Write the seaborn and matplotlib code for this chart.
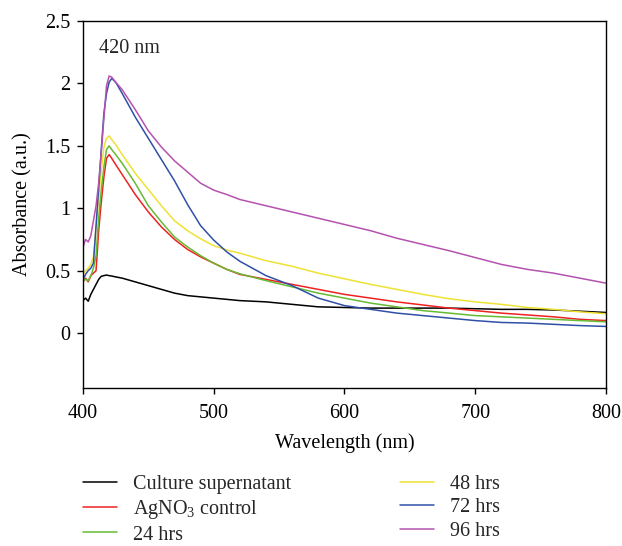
import numpy as np
import pandas as pd
import matplotlib
matplotlib.use("Agg")
import matplotlib.pyplot as plt
from matplotlib.ticker import FuncFormatter
import seaborn as sns

sns.set_style("ticks")
plt.rcParams['font.family'] = ['Liberation Serif', 'DejaVu Serif']
plt.rcParams['mathtext.default'] = 'regular'

# wavelength grid (nm)
wavelength = [400, 402, 404, 406, 408, 410, 412, 414, 416, 418, 420, 422, 425, 430,
              440, 450, 460, 470, 480, 490, 500, 510, 520, 540, 560, 580, 600,
              620, 640, 660, 680, 700, 720, 740, 760, 780, 800]

culture = [0.26, 0.28, 0.255, 0.31, 0.35, 0.39, 0.43, 0.455, 0.46, 0.465, 0.46, 0.457, 0.45, 0.44,
           0.41, 0.38, 0.35, 0.32, 0.30, 0.29, 0.28, 0.27, 0.26, 0.25, 0.23, 0.21, 0.205,
           0.20, 0.20, 0.20, 0.20, 0.195, 0.19, 0.19, 0.185, 0.175, 0.165]
agno3 = [0.41, 0.44, 0.41, 0.46, 0.48, 0.50, 0.82, 1.05, 1.25, 1.40, 1.43, 1.40, 1.35, 1.27,
         1.11, 0.97, 0.85, 0.75, 0.67, 0.61, 0.56, 0.51, 0.47, 0.43, 0.39, 0.35, 0.31,
         0.28, 0.25, 0.225, 0.20, 0.18, 0.16, 0.145, 0.13, 0.11, 0.10]
hrs24 = [0.42, 0.43, 0.42, 0.46, 0.52, 0.62, 0.92, 1.15, 1.33, 1.47, 1.50, 1.47, 1.43, 1.36,
         1.20, 1.02, 0.89, 0.77, 0.69, 0.62, 0.56, 0.51, 0.475, 0.42, 0.37, 0.32, 0.28,
         0.24, 0.21, 0.18, 0.16, 0.14, 0.13, 0.12, 0.11, 0.10, 0.09]
hrs48 = [0.47, 0.50, 0.52, 0.55, 0.61, 0.85, 1.09, 1.30, 1.49, 1.56, 1.58, 1.55, 1.51, 1.43,
         1.28, 1.15, 1.02, 0.90, 0.82, 0.755, 0.70, 0.665, 0.64, 0.58, 0.535, 0.48, 0.435,
         0.39, 0.35, 0.31, 0.275, 0.25, 0.23, 0.205, 0.19, 0.17, 0.155]
hrs72 = [0.43, 0.47, 0.50, 0.52, 0.56, 0.86, 1.16, 1.47, 1.76, 1.92, 2.01, 2.04, 2.01, 1.92,
         1.73, 1.56, 1.39, 1.22, 1.03, 0.86, 0.745, 0.65, 0.575, 0.46, 0.38, 0.28, 0.22,
         0.19, 0.16, 0.14, 0.12, 0.10, 0.085, 0.08, 0.07, 0.06, 0.053]
hrs96 = [0.69, 0.75, 0.73, 0.78, 0.90, 1.02, 1.20, 1.45, 1.72, 1.98, 2.06, 2.05, 2.01, 1.95,
         1.79, 1.62, 1.49, 1.38, 1.29, 1.20, 1.145, 1.11, 1.07, 1.02, 0.97, 0.92, 0.87,
         0.82, 0.76, 0.71, 0.66, 0.605, 0.55, 0.51, 0.48, 0.44, 0.40]

labels = ["Culture supernatant", r"AgNO$_3$ control", "24 hrs", "48 hrs", "72 hrs", "96 hrs"]
colors = ["#000000", "#ee2222", "#66bb33", "#eee233", "#3050a8", "#b452b0"]
series = [culture, agno3, hrs24, hrs48, hrs72, hrs96]

df = pd.concat([pd.DataFrame({"wl": wavelength, "abs": s, "sample": lab})
                for s, lab in zip(series, labels)], ignore_index=True)

fs = 14.5
fig = plt.figure(figsize=(6.22, 5.46), dpi=100)
ax = fig.add_axes([0.1334, 0.2894, 0.8408, 0.6721])

sns.lineplot(data=df, x="wl", y="abs", hue="sample", hue_order=labels,
             palette=dict(zip(labels, colors)), linewidth=1.1, errorbar=None,
             legend=False, ax=ax)

ax.set_xlim(400, 800)
ax.set_ylim(-0.44, 2.5)
ax.set_xticks([400, 500, 600, 700, 800])
ax.set_yticks([0, 0.5, 1, 1.5, 2, 2.5])
ax.yaxis.set_major_formatter(FuncFormatter(lambda v, p: "%g" % v))
ax.tick_params(labelsize=fs, length=4.5, width=1.0, color="black", labelcolor="black")
ax.tick_params(axis="x", pad=7)
ax.tick_params(axis="y", pad=4.5)
for sp in ax.spines.values():
    sp.set_linewidth(1.0)
    sp.set_color("black")
ax.set_xlabel("Wavelength (nm)", fontsize=fs, color="black", labelpad=7.5)
ax.set_ylabel("Absorbance (a.u.)", fontsize=fs, color="black", labelpad=9)
ax.text(0.03, 0.925, "420 nm", transform=ax.transAxes, fontsize=fs, va="center", ha="left")

handles = [plt.Line2D([], [], color=c, lw=1.1) for c in colors]
fig.legend(handles, labels, loc="upper left", bbox_to_anchor=(0.133, 0.131),
           ncol=2, frameon=False, fontsize=fs, handlelength=1.7, handletextpad=0.8,
           columnspacing=5.4, labelspacing=0.22, borderpad=0, borderaxespad=0)

fig.savefig("out.png", dpi=100)
